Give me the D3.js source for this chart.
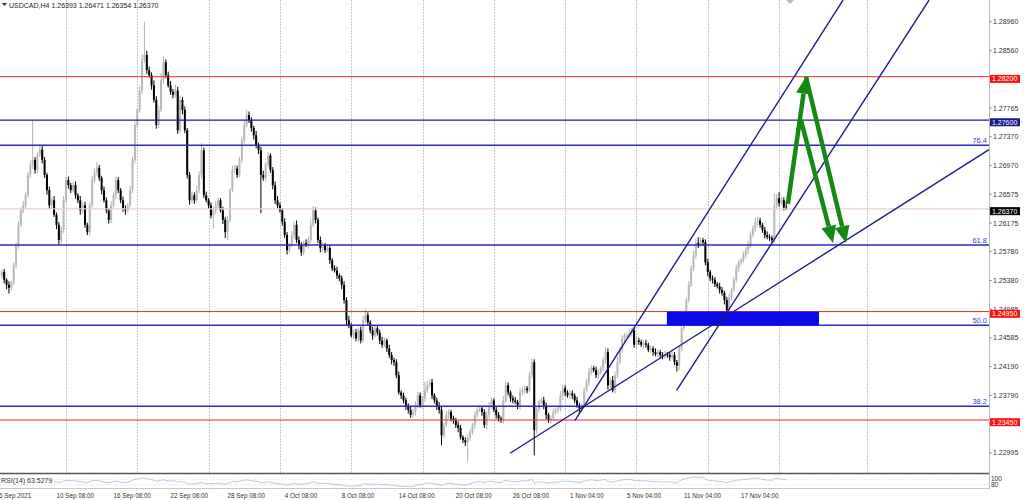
<!DOCTYPE html>
<html><head><meta charset="utf-8">
<script src="https://cdn.jsdelivr.net/npm/d3@7"></script>
<style>
body{margin:0;background:#fff;}
svg{display:block;font-family:"Liberation Sans",Arial,sans-serif;}
</style>
</head><body>
<svg id="c" width="1024" height="500"></svg>
<script>
// ---------------- DATA ----------------
const symbol = "USDCAD,H4";
const lastOHLC = [1.26393, 1.26471, 1.26354, 1.26370];
const rsiLabel = "RSI(14) 63.5279";
const firstOpen = 1.2545;
const closes = [
1.2550,1.2539,1.2532,1.2528,1.2535, 1.2559,1.2587,1.2615,1.2635,1.2642,
1.2656,1.2684,1.2698,1.2705,1.2691, 1.2712,1.2719,1.2705,1.2684,1.2663,
1.2642,1.2649,1.2629,1.2615,1.2594, 1.2608,1.2649,1.2677,1.2670,1.2663,
1.2670,1.2656,1.2649,1.2635,1.2642, 1.2615,1.2605,1.2642,1.2677,1.2688,
1.2694,1.2680,1.2663,1.2649,1.2635, 1.2622,1.2642,1.2656,1.2677,1.2663,
1.2649,1.2638,1.2635,1.2642,1.2663, 1.2705,1.2753,1.2774,1.2801,1.2843,
1.2850,1.2829,1.2822,1.2808,1.2788, 1.2753,1.2774,1.2815,1.2840,1.2822,
1.2808,1.2799,1.2795,1.2801,1.2746, 1.2788,1.2774,1.2746,1.2684,1.2649,
1.2656,1.2649,1.2663,1.2684,1.2718, 1.2656,1.2649,1.2642,1.2628,1.2635,
1.2642,1.2649,1.2635,1.2622,1.2605, 1.2622,1.2663,1.2691,1.2693,1.2684,
1.2705,1.2732,1.2753,1.2767,1.2760, 1.2749,1.2739,1.2725,1.2718,1.2684,
1.2680,1.2698,1.2711,1.2691,1.2670, 1.2649,1.2642,1.2635,1.2619,1.2601,
1.2580,1.2587,1.2601,1.2615,1.2594, 1.2587,1.2577,1.2590,1.2587,1.2594,
1.2615,1.2635,1.2622,1.2594,1.2583, 1.2587,1.2580,1.2583,1.2566,1.2555,
1.2552,1.2545,1.2541,1.2532,1.2511, 1.2483,1.2476,1.2462,1.2466,1.2458,
1.2469,1.2455,1.2483,1.2490,1.2480, 1.2469,1.2462,1.2472,1.2466,1.2455,
1.2449,1.2455,1.2444,1.2435,1.2428, 1.2425,1.2407,1.2383,1.2379,1.2372,
1.2365,1.2359,1.2352,1.2356,1.2365, 1.2379,1.2365,1.2375,1.2386,1.2393,
1.2397,1.2379,1.2372,1.2365,1.2359, 1.2324,1.2338,1.2352,1.2356,1.2347,
1.2345,1.2338,1.2334,1.2321,1.2317, 1.2314,1.2320,1.2328,1.2338,1.2352,
1.2359,1.2361,1.2356,1.2338,1.2352, 1.2365,1.2372,1.2359,1.2352,1.2347,
1.2345,1.2372,1.2393,1.2383,1.2375, 1.2372,1.2370,1.2365,1.2383,1.2386,
1.2389,1.2386,1.2407,1.2425,1.2331, 1.2359,1.2370,1.2372,1.2365,1.2352,
1.2345,1.2347,1.2356,1.2359,1.2361, 1.2379,1.2389,1.2383,1.2379,1.2382,
1.2379,1.2372,1.2365,1.2361,1.2365, 1.2386,1.2397,1.2411,1.2417,1.2414,
1.2407,1.2411,1.2417,1.2428,1.2439, 1.2393,1.2400,1.2386,1.2407,1.2425,
1.2442,1.2458,1.2462,1.2462,1.2465, 1.2469,1.2449,1.2455,1.2453,1.2449,
1.2451,1.2449,1.2442,1.2444,1.2439, 1.2436,1.2439,1.2435,1.2433,1.2436,
1.2435,1.2432,1.2435,1.2425,1.2420, 1.2444,1.2472,1.2490,1.2511,1.2532,
1.2555,1.2573,1.2590,1.2587,1.2594, 1.2591,1.2563,1.2550,1.2541,1.2539,
1.2533,1.2530,1.2525,1.2521,1.2511, 1.2497,1.2515,1.2525,1.2539,1.2555,
1.2563,1.2566,1.2573,1.2580,1.2587, 1.2601,1.2610,1.2619,1.2621,1.2615,
1.2608,1.2601,1.2598,1.2597,1.2594, 1.2642,1.2652,1.2645,1.2649,1.2639,
1.2637
];
// upper / lower wick lengths in pips
const wickUp = [
3,4,2,5,3,4,3,5,4,6, 5,4,6,55,4,3,7,5,4,3, 5,4,6,3,4,5,6,4,5,3, 4,5,3,6,4,5,3,4,6,5,
8,4,3,5,4,3,6,4,5,4, 3,5,4,3,6,4,5,3,6,8, 46,6,5,4,7,5,6,10,8,4, 5,6,4,8,5,6,4,5,3,4,
5,4,6,5,10,4,5,3,4,5, 6,4,3,5,4,5,3,6,5,4, 4,5,6,7,5,4,3,6,4,5, 6,4,5,3,4,5,6,4,3,5,
4,3,5,4,6,5,4,3,5,4, 8,6,4,3,5,4,3,5,4,3, 4,5,3,4,5,4,6,3,4,5, 4,5,6,8,4,3,5,4,3,4,
5,4,3,5,4,3,4,5,3,4, 4,3,5,4,6,5,4,3,12,6, 4,5,3,4,5,4,3,5,4,3, 4,3,5,4,3,4,5,4,3,5,
4,5,3,4,6,5,4,3,5,4, 3,6,5,4,3,4,5,3,6,5, 4,3,5,5,4,5,3,4,5,4, 3,4,5,3,4,6,5,4,3,5,
4,3,5,4,3,4,5,6,4,3, 5,4,3,4,7,5,4,6,5,8, 4,5,3,4,5,4,3,5,4,3, 4,5,3,4,3,5,4,3,4,5,
3,4,5,4,3,4,5,6,4,5, 4,6,5,8,4,3,4,5,3,4, 4,3,5,4,3,4,5,3,4,5, 4,3,5,4,6,5,4,6,5,4,
3,4,5,4,3,17,6,8,5,4, 8
];
const wickDown = [
4,5,6,8,4,3,4,5,3,4, 5,3,4,6,5,4,3,5,4,6, 5,4,3,6,7,5,4,3,5,4, 3,5,4,6,5,4,4,5,3,4,
5,4,6,3,4,5,4,3,5,4, 4,5,6,4,3,4,5,3,4,5, 4,5,3,6,4,5,4,3,5,4, 3,4,5,4,5,3,6,4,5,6,
4,5,3,4,5,4,3,5,4,18, 5,4,3,6,8,11,4,3,5,4, 3,4,5,3,4,5,6,4,5,53, 4,5,3,4,6,5,4,3,5,4,
6,4,3,5,4,6,5,4,3,5, 4,3,5,4,6,5,4,3,5,4, 3,5,4,6,5,8,4,3,5,4, 5,4,3,4,5,4,6,3,4,5,
4,3,5,4,6,5,4,3,5,4, 6,5,4,3,5,4,3,4,5,4, 3,5,4,6,5,14,4,3,5,4, 5,4,6,3,4,5,27,4,3,5,
4,3,5,4,6,5,4,3,5,4, 4,5,3,4,5,4,3,5,6,4, 5,4,3,4,35,5,4,3,5,6, 4,5,3,4,5,4,6,5,3,4,
5,4,3,6,5,4,3,5,4,3, 4,5,3,4,5,6,4,3,5,4, 3,4,5,4,3,5,4,6,4,3, 5,4,3,4,5,3,4,5,4,3,
4,5,3,4,8,6,4,3,5,4, 3,4,5,4,3,5,4,6,4,5, 4,3,5,4,6,3,4,5,3,4, 5,4,3,4,5,4,3,5,6,4,
4,5,3,4,3,5,4,5,3,4, 2
];
const priceTicks = [1.28960,1.28560,1.27765,1.27370,1.26970,1.26575,1.26175,1.25780,1.25380,1.24985,1.24585,1.24190,1.23790,1.22995];
const redLevels = [1.28200, 1.24950, 1.23450];
const navyLevels = [1.27600];
const bidPrice = 1.26370;
const fibLabels = ["76.4","61.8","50.0","38.2"];
const fibPrices = [1.2725, 1.2587, 1.2476, 1.2364];
const timeBars = [-1.2,23,47,71,95,119,143,167,191,215,239,263,287,311];
const timeTexts = ["6 Sep 2021","10 Sep 08:00","16 Sep 08:00","22 Sep 08:00","28 Sep 08:00","4 Oct 08:00","8 Oct 08:00","14 Oct 08:00","20 Oct 08:00","26 Oct 08:00","1 Nov 04:00","5 Nov 04:00","11 Nov 04:00","17 Nov 04:00"];
const gridBars = [27,57,87,117,147,177,207,237,267,297,327,364];
// trend lines: [bar, price] pairs
const trendLines = [
  [[213.8,1.2299],[415.3,1.2719]],
  [[241.1,1.2344],[353.9,1.2926]],
  [[283.9,1.2386],[390.1,1.2926]]
];
const zoneBars = [279.8, 343.8];
const zonePrices = [1.2495, 1.2476];
const arrows = [
  [[330.7,1.2644],[338.3,1.2820]],
  [[336.2,1.2760],[349.7,1.2590]],
  [[338.3,1.2820],[355.2,1.2590]]
];

// ---------------- SCALES ----------------
const svg = d3.select("#c");
const plotR = 989, plotB = 473;
const x = d3.scaleLinear().domain([0, 330]).range([1.8, 1.8 + 330*2.377]);
const y = d3.scaleLinear().domain([1.2345, 1.2820]).range([420, 76.7]);
const pip = 0.0001;

const defs = svg.append("defs");
defs.append("clipPath").attr("id","plot").append("rect").attr("x",0).attr("y",0).attr("width",plotR).attr("height",plotB);

const gPlot = svg.append("g").attr("clip-path","url(#plot)");

// grid
gPlot.selectAll("line.grid").data(gridBars).enter().append("line")
  .attr("x1",d=>Math.round(x(d))+0.5).attr("x2",d=>Math.round(x(d))+0.5)
  .attr("y1",0).attr("y2",plotB)
  .attr("stroke","#c8c8c8").attr("stroke-width",1).attr("stroke-dasharray","2,1");

// candles
const bars = closes.map((c,i)=>{
  const o = i===0 ? firstOpen : closes[i-1];
  const hi = Math.max(o,c) + (wickUp[i] ?? 4)*pip;
  const lo = Math.min(o,c) - (wickDown[i] ?? 4)*pip;
  return {i,o,c,hi,lo,bull:c>=o};
});
bars[bars.length-1].hi = lastOHLC[1];
bars[bars.length-1].lo = lastOHLC[2];
const gC = gPlot.append("g");
gC.selectAll("line.wick").data(bars).enter().append("line")
  .attr("x1",d=>x(d.i)).attr("x2",d=>x(d.i))
  .attr("y1",d=>y(d.hi)).attr("y2",d=>y(d.lo))
  .attr("stroke",d=>d.bull?"#b0b0b0":"#000").attr("stroke-width",1);
gC.selectAll("rect.body").data(bars).enter().append("rect")
  .attr("x",d=>x(d.i)-1).attr("width",2)
  .attr("y",d=>y(Math.max(d.o,d.c)))
  .attr("height",d=>Math.max(1, y(Math.min(d.o,d.c))-y(Math.max(d.o,d.c))))
  .attr("fill",d=>d.bull?"#b8b8b8":"#000");

// horizontal levels
gPlot.append("line").attr("x1",0).attr("x2",plotR).attr("y1",y(bidPrice)).attr("y2",y(bidPrice))
  .attr("stroke","#ead2c6").attr("stroke-width",1.2);
gPlot.selectAll("line.red").data(redLevels).enter().append("line")
  .attr("x1",0).attr("x2",plotR).attr("y1",d=>y(d)).attr("y2",d=>y(d))
  .attr("stroke","#ee2222").attr("stroke-width",1);
gPlot.selectAll("line.navy").data(navyLevels).enter().append("line")
  .attr("x1",0).attr("x2",plotR).attr("y1",d=>y(d)).attr("y2",d=>y(d))
  .attr("stroke","#1c1c96").attr("stroke-width",1.2);
gPlot.selectAll("line.fib").data(fibPrices).enter().append("line")
  .attr("x1",0).attr("x2",plotR).attr("y1",d=>y(d)).attr("y2",d=>y(d))
  .attr("stroke","#2a2ac4").attr("stroke-width",1.5);

// zone rectangle
gPlot.append("rect")
  .attr("x",x(zoneBars[0])).attr("width",x(zoneBars[1])-x(zoneBars[0]))
  .attr("y",y(zonePrices[0])).attr("height",y(zonePrices[1])-y(zonePrices[0]))
  .attr("fill","#0a0ae6");

// trend lines
gPlot.selectAll("line.trend").data(trendLines).enter().append("line")
  .attr("x1",d=>x(d[0][0])).attr("y1",d=>y(d[0][1]))
  .attr("x2",d=>x(d[1][0])).attr("y2",d=>y(d[1][1]))
  .attr("stroke","#1c1c88").attr("stroke-width",1.4);

// arrows
const green = "#138a13";
arrows.forEach(a=>{
  const x1=x(a[0][0]), y1=y(a[0][1]), x2=x(a[1][0]), y2=y(a[1][1]);
  const dx=x2-x1, dy=y2-y1, L=Math.hypot(dx,dy), ux=dx/L, uy=dy/L;
  const hl=17, hw=7.5;
  const bx=x2-ux*hl, by=y2-uy*hl;
  gPlot.append("line").attr("x1",x1).attr("y1",y1).attr("x2",bx).attr("y2",by)
    .attr("stroke",green).attr("stroke-width",4.5);
  gPlot.append("path")
    .attr("d",`M${x2},${y2}L${bx-uy*hw},${by+ux*hw}L${bx+uy*hw},${by-ux*hw}Z`)
    .attr("fill",green);
});

// fib labels
svg.selectAll("text.fib").data(fibPrices).enter().append("text")
  .attr("x",987).attr("y",d=>y(d)-2).attr("text-anchor","end")
  .attr("font-size",7.5).attr("fill","#4040d0").text((d,i)=>fibLabels[i]);

// header
svg.append("path").attr("d","M2,3L7,3L4.5,6Z").attr("fill","#333");
svg.append("text").attr("x",9).attr("y",7.5).attr("font-size",7).attr("fill","#222")
  .text(symbol + "  " + lastOHLC.map(v=>v.toFixed(5)).join(" "));
// chart shift marker
svg.append("path").attr("d","M786,0L794,0L790,4Z").attr("fill","#bbb");

// right axis
svg.append("line").attr("x1",989.5).attr("x2",989.5).attr("y1",0).attr("y2",489).attr("stroke","#b8b8b8");
svg.selectAll("text.tick").data(priceTicks).enter().append("text")
  .attr("x",993).attr("y",d=>y(d)+2.5).attr("font-size",7).attr("fill","#333")
  .text(d=>d.toFixed(5));
svg.selectAll("line.tk").data(priceTicks).enter().append("line")
  .attr("x1",989).attr("x2",992).attr("y1",d=>y(d)).attr("y2",d=>y(d)).attr("stroke","#999");

// price boxes
const boxes = [
  {p:redLevels[0], c:"#ff1010"},{p:navyLevels[0], c:"#1a1a8a"},{p:bidPrice, c:"#000"},
  {p:redLevels[1], c:"#ff1010"},{p:redLevels[2], c:"#ff1010"}
];
boxes.forEach(b=>{
  const yc = y(b.p)+2.2;
  svg.append("rect").attr("x",990).attr("y",yc-4).attr("width",30).attr("height",8).attr("fill",b.c);
  svg.append("text").attr("x",992).attr("y",yc+2.5).attr("font-size",7).attr("fill","#fff").text(b.p.toFixed(5));
});

// RSI panel
svg.append("line").attr("x1",0).attr("x2",plotR).attr("y1",473.5).attr("y2",473.5).attr("stroke","#555").attr("stroke-width",1.6);
svg.append("line").attr("x1",0).attr("x2",plotR).attr("y1",488.5).attr("y2",488.5).attr("stroke","#c8c8c8");
const yr = d3.scaleLinear().domain([0,100]).range([489,475]);
[70,30].forEach(v=>svg.append("line").attr("x1",0).attr("x2",plotR).attr("y1",yr(v)).attr("y2",yr(v))
  .attr("stroke","#d8d8d8").attr("stroke-dasharray","1,2"));
// RSI(14), Wilder smoothing, from the candle closes
const allC = [firstOpen, ...closes];
const rsi = [];
let ag=0, al=0;
for(let k=1;k<allC.length;k++){
  const ch = allC[k]-allC[k-1], g=Math.max(ch,0), l=Math.max(-ch,0);
  if(k<=14){ ag+=g/14; al+=l/14; if(k===14) rsi.push({i:k-1, v:100-100/(1+ag/(al||1e-9))}); }
  else { ag=(ag*13+g)/14; al=(al*13+l)/14; rsi.push({i:k-1, v:100-100/(1+ag/(al||1e-9))}); }
}
svg.append("path").datum(rsi.filter(d=>x(d.i)>52))
  .attr("d",d3.line().x(d=>x(d.i)).y(d=>yr(d.v)))
  .attr("fill","none").attr("stroke","#a8c4e0").attr("stroke-width",0.9);
svg.append("text").attr("x",1).attr("y",483).attr("font-size",7).attr("fill","#333").text(rsiLabel);
svg.append("text").attr("x",991).attr("y",481).attr("font-size",6.5).attr("fill","#333").text("100");
svg.append("text").attr("x",991).attr("y",487).attr("font-size",6.5).attr("fill","#333").text("80");

// time axis
svg.selectAll("text.time").data(timeBars).enter().append("text")
  .attr("x",d=>x(d)).attr("y",497.5).attr("font-size",6.3).attr("fill","#333")
  .text((d,i)=>timeTexts[i]);
</script>
</body></html>
